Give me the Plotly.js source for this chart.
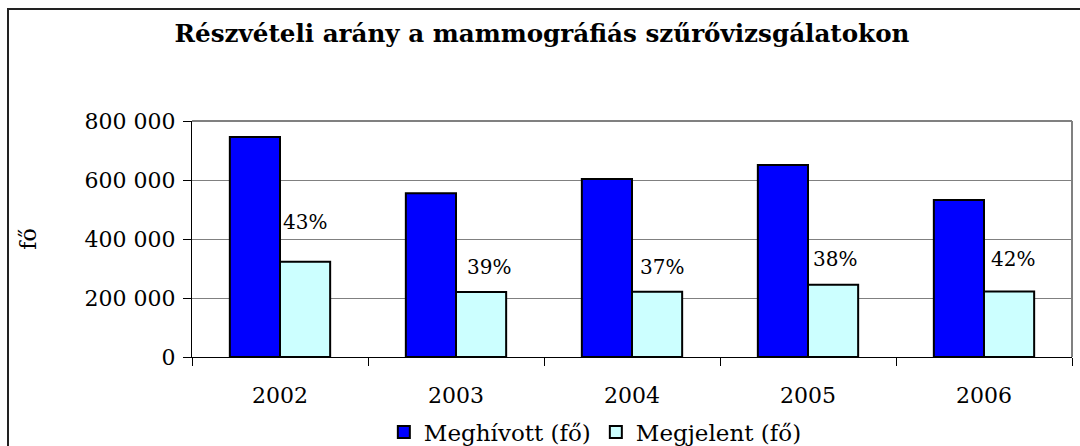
<!DOCTYPE html>
<html>
<head>
<meta charset="utf-8">
<script src="https://cdn.plot.ly/plotly-3.0.1.min.js"></script>
<style>
html,body{margin:0;padding:0;background:#fff;}
#wrap{position:relative;width:1080px;height:446px;overflow:hidden;}
#chart{width:1080px;height:446px;}
#frame{position:absolute;left:7px;top:8px;width:2000px;height:1000px;border-left:2px solid #222;border-top:2px solid #222;pointer-events:none;}
</style>
</head>
<body>
<div id="wrap"><div id="chart"></div><div id="frame"></div></div>
<script>
const years = ['2002', '2003', '2004', '2005', '2006'];
const meghivott = [746000, 555000, 603000, 651000, 532000];
const megjelent = [323000, 220000, 221000, 245000, 222000];
const aranyLabels = ['43%', '39%', '37%', '38%', '42%'];
const yTickVals = [0, 200000, 400000, 600000, 800000];
const yTickText = ['0', '200 000', '400 000', '600 000', '800 000'];

const serif = 'DejaVu Serif, serif';
const labelShiftY = [26, 11, 11, 12, 19];
const labelShiftX = [25, 33, 30, 27, 29];

const traces = [
  {type: 'bar', name: 'Meghívott (fő)', x: years, y: meghivott,
   marker: {color: '#0000FF', line: {color: '#000', width: 2}}},
  {type: 'bar', name: 'Megjelent (fő)', x: years, y: megjelent,
   marker: {color: '#CCFFFF', line: {color: '#000', width: 2}}}
];

const annotations = years.map((yr, i) => ({
  x: i, y: megjelent[i], xref: 'x', yref: 'y',
  text: aranyLabels[i], showarrow: false,
  xanchor: 'center', yanchor: 'bottom',
  xshift: labelShiftX[i], yshift: labelShiftY[i],
  font: {family: serif, size: 20, color: '#000'}
}));

const layout = {
  width: 1080, height: 446,
  margin: {l: 192, r: 8, t: 121, b: 89, autoexpand: false},
  paper_bgcolor: '#fff', plot_bgcolor: '#fff',
  barmode: 'group', bargap: 0.43, bargroupgap: 0,
  title: {text: '<b>Részvételi arány a mammográfiás szűrővizsgálatokon</b>',
          font: {family: serif, size: 24.6, color: '#000'},
          x: 542/1080, xanchor: 'center', xref: 'container', y: 1 - 33/446, yanchor: 'middle'},
  xaxis: {type: 'category', showline: true, linecolor: '#000', linewidth: 1,
          ticks: 'outside', tickson: 'boundaries', ticklen: 8, tickcolor: '#000',
          ticklabelstandoff: 19, tickangle: 0, automargin: false,
          tickfont: {family: serif, size: 22, color: '#000'}, showgrid: false, fixedrange: true},
  yaxis: {range: [0, 800000], tickvals: yTickVals, ticktext: yTickText,
          showline: true, linecolor: '#000', linewidth: 1, zeroline: false,
          ticks: 'outside', ticklen: 8, tickcolor: '#000', ticklabelstandoff: 3,
          showgrid: true, gridcolor: '#808080', gridwidth: 1, automargin: false,
          tickfont: {family: serif, size: 22, color: '#000'},
          title: {text: 'fő', font: {family: serif, size: 22, color: '#000'}, standoff: 41},
          fixedrange: true},
  shapes: [
    {type: 'line', xref: 'paper', yref: 'paper', x0: 0, x1: 1, y0: 1, y1: 1,
     line: {color: '#808080', width: 2}, layer: 'below'},
    {type: 'line', xref: 'paper', yref: 'paper', x0: 1, x1: 1, y0: 0, y1: 1,
     line: {color: '#808080', width: 2}, layer: 'below'}
  ],
  annotations: annotations,
  legend: {orientation: 'h', x: 0.218, xanchor: 'left', y: -0.318, yanchor: 'middle',
           font: {family: serif, size: 23, color: '#000'}, itemwidth: 30,
           traceorder: 'normal', bgcolor: 'rgba(0,0,0,0)'},
  showlegend: true
};

Plotly.newPlot('chart', traces, layout, {displayModeBar: false, staticPlot: true});
</script>
</body>
</html>
